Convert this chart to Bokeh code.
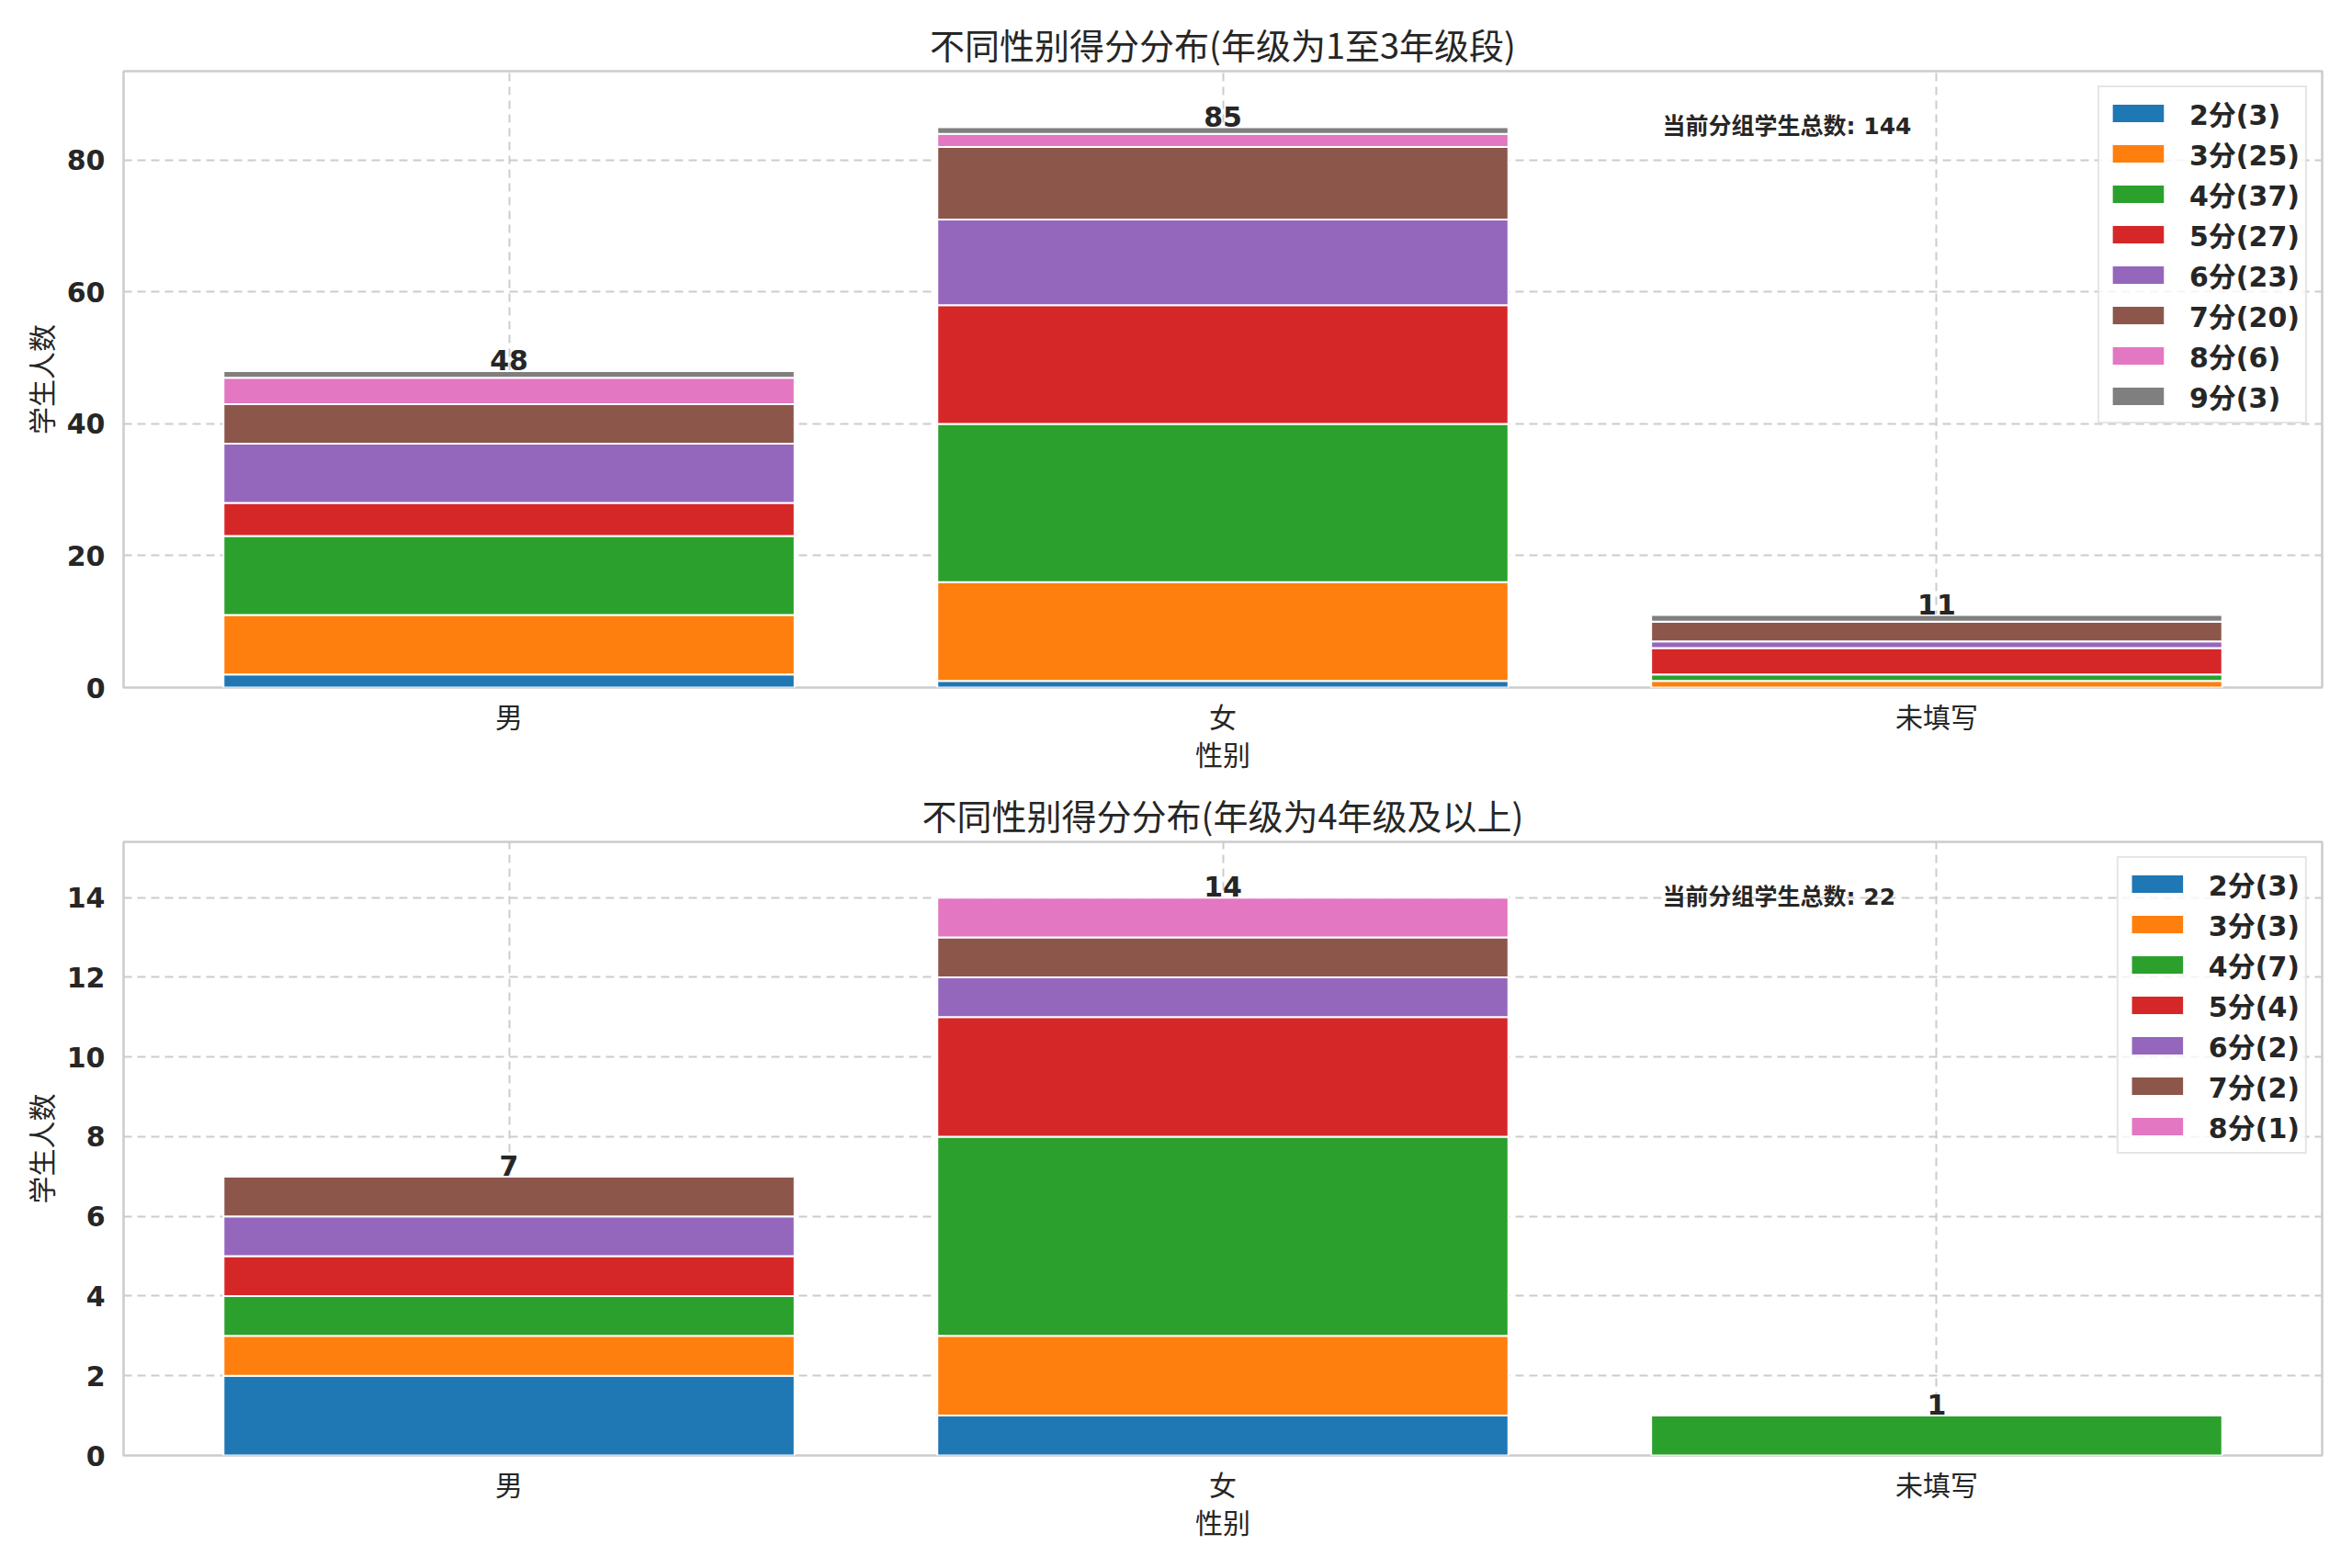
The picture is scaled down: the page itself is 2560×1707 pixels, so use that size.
from bokeh.core.properties import value
from bokeh.embed import file_html
from bokeh.layouts import column
from bokeh.models import ColumnDataSource, FixedTicker, Label, Range1d
from bokeh.plotting import figure
from bokeh.resources import INLINE

# categories on the x axis
categories = ["男", "女", "未填写"]
colors = ["#1f77b4", "#ff7f0e", "#2ca02c", "#d62728",
          "#9467bd", "#8c564b", "#e377c2", "#7f7f7f"]

# grade 1-3 group: counts per score (2..9) for each category
low_scores = [2, 3, 4, 5, 6, 7, 8, 9]
low_male = [2, 9, 12, 5, 9, 6, 4, 1]
low_female = [1, 15, 24, 18, 13, 11, 2, 1]
low_unknown = [0, 1, 1, 4, 1, 3, 0, 1]
low_yticks = [0, 20, 40, 60, 80]

# grade 4+ group: counts per score (2..8)
high_scores = [2, 3, 4, 5, 6, 7, 8]
high_male = [2, 1, 1, 1, 1, 1, 0]
high_female = [1, 2, 5, 3, 1, 1, 1]
high_unknown = [0, 0, 1, 0, 0, 0, 0]
high_yticks = [0, 2, 4, 6, 8, 10, 12, 14]

FONT = "'DejaVu Sans', 'Noto Sans CJK SC'"
CJK = "'Noto Sans CJK SC', 'DejaVu Sans'"
INK = "#262626"
LIGHT = "#cccccc"


def panel(title, scores, rows, yticks, top, bottom):
    xs = list(range(len(categories)))
    totals = [sum(r) for r in rows]
    ymax = max(totals) * 1.1
    bar_w = 0.8
    span = (len(xs) - 1) + bar_w
    x0 = -bar_w / 2 - 0.05 * span
    x1 = (len(xs) - 1) + bar_w / 2 + 0.05 * span

    p = figure(width=2544, height=846, title=title,
               x_range=Range1d(x0, x1), y_range=Range1d(0, ymax),
               output_backend="svg", toolbar_location=None,
               min_border_left=134, min_border_right=17,
               min_border_top=top, min_border_bottom=bottom,
               background_fill_color="white", border_fill_color="white")

    data = {"x": xs}
    keys = []
    labels = []
    for i, s in enumerate(scores):
        k = "s%d" % s
        data[k] = [r[i] for r in rows]
        keys.append(k)
        labels.append("%d分(%d)" % (s, sum(data[k])))
    src = ColumnDataSource(data)
    p.vbar_stack(keys, x="x", width=bar_w, source=src,
                 color=colors[:len(keys)], line_color="white", line_width=2,
                 legend_label=labels)

    p.text(xs, totals, text=[str(t) for t in totals],
           text_font=value(FONT), text_font_size=value("30px"),
           text_font_style="bold", text_color=INK,
           text_align="center", text_baseline="bottom", y_offset=-1)

    p.add_layout(Label(x=x0 + 0.7 * (x1 - x0), y=0.91 * ymax,
                       text="当前分组学生总数: %d" % sum(totals),
                       text_font=FONT, text_font_size="25px",
                       text_font_style="bold", text_color=INK,
                       text_align="left", text_baseline="middle"))

    p.title.align = "center"
    p.title.text_font = CJK
    p.title.text_font_size = "38px"
    p.title.text_font_style = "normal"
    p.title.text_color = INK
    p.title.standoff = 6

    p.xaxis.ticker = FixedTicker(ticks=xs)
    p.xaxis.major_label_overrides = {i: c for i, c in enumerate(categories)}
    p.xaxis.axis_label = "性别"
    p.xaxis.major_label_standoff = 2
    p.xaxis.axis_label_standoff = -6
    p.yaxis.ticker = FixedTicker(ticks=yticks)
    p.yaxis.axis_label = "学生人数"
    p.yaxis.major_label_standoff = 14
    p.yaxis.axis_label_standoff = 4
    p.yaxis.major_label_text_font = "DejaVu Sans"
    p.yaxis.major_label_text_font_style = "bold"
    p.xaxis.major_label_text_font = CJK
    for ax in (p.xaxis, p.yaxis):
        ax.major_label_text_font_size = "30px"
        ax.major_label_text_color = INK
        ax.axis_label_text_font = CJK
        ax.axis_label_text_font_size = "30px"
        ax.axis_label_text_font_style = "normal"
        ax.axis_label_text_color = INK
        ax.axis_line_color = None
        ax.major_tick_line_color = None
        ax.minor_tick_line_color = None

    p.grid.grid_line_color = LIGHT
    p.grid.grid_line_width = 2
    p.grid.grid_line_dash = "9 6"
    p.xgrid.ticker = FixedTicker(ticks=xs)
    p.outline_line_color = LIGHT
    p.outline_line_width = 2.5

    lg = p.legend[0]
    lg.location = "top_right"
    lg.margin = 16
    lg.padding = 6
    lg.spacing = 0
    lg.glyph_width = 72
    lg.glyph_height = 26
    lg.label_standoff = 20
    lg.label_height = 30
    lg.label_text_font = FONT
    lg.label_text_font_size = "30px"
    lg.label_text_font_style = "bold"
    lg.label_text_color = INK
    lg.border_line_color = LIGHT
    lg.border_line_width = 2
    lg.background_fill_alpha = 0.8
    return p


p1 = panel("不同性别得分分布(年级为1至3年级段)", low_scores,
           [low_male, low_female, low_unknown], low_yticks, 77, 98)
p2 = panel("不同性别得分分布(年级为4年级及以上)", high_scores,
           [high_male, high_female, high_unknown], high_yticks, 70, 108)

p = column(p1, p2)
open("out.html", "w").write(file_html(p, INLINE))
